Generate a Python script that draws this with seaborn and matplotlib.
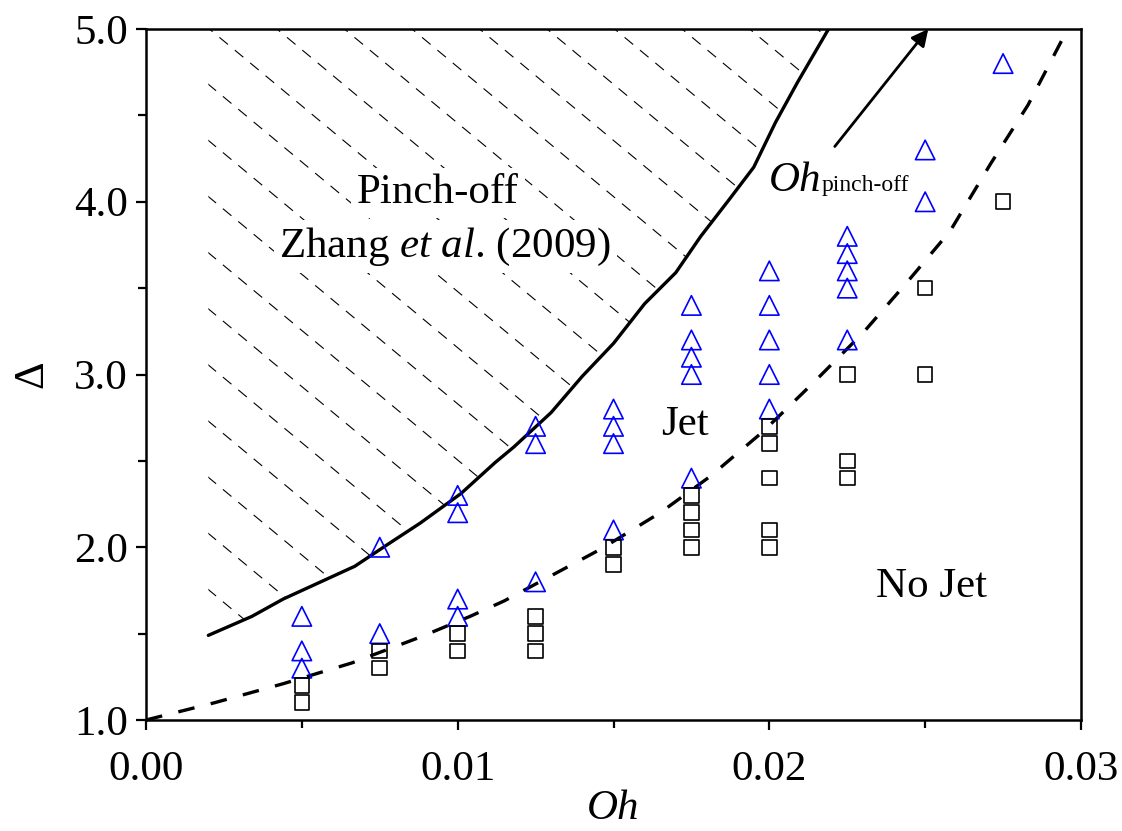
import numpy as np
import matplotlib
matplotlib.use("Agg")
import matplotlib.pyplot as plt
import seaborn as sns
from matplotlib.patches import Polygon
from matplotlib.ticker import MultipleLocator, FixedLocator

# ---------------- data ----------------
# Jet (blue triangles)
oh_jet = [0.005, 0.005, 0.005,
          0.0075, 0.0075,
          0.01, 0.01, 0.01, 0.01,
          0.0125, 0.0125, 0.0125,
          0.015, 0.015, 0.015, 0.015,
          0.0175, 0.0175, 0.0175, 0.0175, 0.0175,
          0.02, 0.02, 0.02, 0.02, 0.02,
          0.0225, 0.0225, 0.0225, 0.0225, 0.0225,
          0.025, 0.025,
          0.0275]
delta_jet = [1.6, 1.4, 1.3,
             1.5, 2.0,
             1.7, 1.6, 2.3, 2.2,
             1.8, 2.7, 2.6,
             2.1, 2.8, 2.7, 2.6,
             2.4, 3.0, 3.1, 3.2, 3.4,
             2.8, 3.0, 3.2, 3.4, 3.6,
             3.2, 3.5, 3.6, 3.7, 3.8,
             4.0, 4.3,
             4.8]

# No jet (black squares)
oh_nojet = [0.005, 0.005,
            0.0075, 0.0075,
            0.01, 0.01,
            0.0125, 0.0125, 0.0125,
            0.015, 0.015,
            0.0175, 0.0175, 0.0175, 0.0175,
            0.02, 0.02, 0.02, 0.02, 0.02,
            0.0225, 0.0225, 0.0225,
            0.025, 0.025,
            0.0275]
delta_nojet = [1.2, 1.1,
               1.4, 1.3,
               1.5, 1.4,
               1.6, 1.5, 1.4,
               2.0, 1.9,
               2.3, 2.2, 2.1, 2.0,
               2.7, 2.6, 2.4, 2.1, 2.0,
               3.0, 2.5, 2.4,
               3.5, 3.0,
               4.0]

# Pinch-off limit, Zhang et al. (2009) (solid line)
pinch_oh = [0.0020, 0.0034, 0.0044, 0.0067, 0.0077, 0.0088, 0.0101, 0.0112,
            0.0118, 0.0130, 0.0140, 0.0150, 0.0160, 0.0170, 0.0178, 0.0187,
            0.0195, 0.0202, 0.0209, 0.0219]
pinch_delta = [1.49, 1.60, 1.70, 1.89, 2.01, 2.14, 2.31, 2.49,
               2.58, 2.78, 2.99, 3.18, 3.41, 3.59, 3.80, 4.01,
               4.20, 4.46, 4.69, 5.00]

# Jet / no-jet boundary (dashed line)
bound_oh = [0.0, 0.0022, 0.0044, 0.0066, 0.0088, 0.0104, 0.0115, 0.0146,
            0.0165, 0.0181, 0.0198, 0.0214, 0.0230, 0.0244, 0.0258, 0.0271,
            0.0283, 0.0294]
bound_delta = [1.00, 1.10, 1.21, 1.33, 1.48, 1.60, 1.69, 1.99,
               2.20, 2.41, 2.67, 2.95, 3.24, 3.53, 3.83, 4.22,
               4.56, 4.94]

x_ticks = [0.0, 0.01, 0.02, 0.03]
x_ticklabels = ["0.00", "0.01", "0.02", "0.03"]
y_ticks = [1.0, 2.0, 3.0, 4.0, 5.0]
y_ticklabels = ["1.0", "2.0", "3.0", "4.0", "5.0"]

# ---------------- style ----------------
sns.set_style("ticks")
plt.rcParams["font.family"] = ["Liberation Serif", "DejaVu Serif"]
plt.rcParams["mathtext.fontset"] = "custom"
plt.rcParams["mathtext.rm"] = "Liberation Serif"
plt.rcParams["mathtext.it"] = "Liberation Serif:italic"
plt.rcParams["text.color"] = "black"
plt.rcParams["axes.labelcolor"] = "black"
plt.rcParams["xtick.color"] = "black"
plt.rcParams["ytick.color"] = "black"

FS = 31
W, H = 1122, 831
fig = plt.figure(figsize=(W / 100, H / 100), dpi=100)
ax = fig.add_axes([146 / W, 1 - 720 / H, (1081 - 146) / W, (720 - 29) / H])

xmin, xmax, ymin, ymax = 0.0, 0.03, 1.0, 5.0
ax.set_xlim(xmin, xmax)
ax.set_ylim(ymin, ymax)

# ---------------- hatch of the pinch-off region ----------------
hatch_left = pinch_oh[0]
poly_pts = [(hatch_left, ymax), (hatch_left, pinch_delta[0])] + \
    list(zip(pinch_oh, pinch_delta)) + [(pinch_oh[-1], ymax)]
clip = Polygon(poly_pts, closed=True, facecolor="none", edgecolor="none",
               transform=ax.transData)
ax.add_patch(clip)
hatch_slope = 150.0      # data units of delta per unit Oh
hatch_step = 0.325
hatch_c0 = 3.38
xs = np.array([xmin, xmax])
for k in range(-6, 30):
    c = hatch_c0 + k * hatch_step
    ln, = ax.plot(xs, c - hatch_slope * (xs - hatch_left), color="black",
                  lw=0.8, linestyle=(0, (10, 8)), zorder=1.5)
    ln.set_clip_path(clip)

# ---------------- curves ----------------
sns.lineplot(x=pinch_oh, y=pinch_delta, sort=False, estimator=None,
             color="black", lw=2.4, ax=ax, zorder=3)
sns.lineplot(x=bound_oh, y=bound_delta, sort=False, estimator=None,
             color="black", lw=2.4, linestyle=(0, (5, 5)), ax=ax, zorder=3)

# ---------------- markers ----------------
sns.scatterplot(x=oh_jet, y=delta_jet, marker="^", s=14 ** 2,
                facecolors="none", edgecolor="#0000ff", linewidth=1.2,
                ax=ax, zorder=4)
sns.scatterplot(x=oh_nojet, y=delta_nojet, marker="s", s=10.5 ** 2,
                facecolors="none", edgecolor="black", linewidth=1.2,
                ax=ax, zorder=4)

# ---------------- annotations ----------------
tb = dict(facecolor="white", edgecolor="none", pad=4)
ax.text(0.00937, 4.05, "Pinch-off", ha="center", va="center", fontsize=FS,
        bbox=tb, zorder=5)
ax.text(0.0096, 3.74, r"Zhang $\mathit{et\ al}$. (2009)", ha="center",
        va="center", fontsize=FS, bbox=tb, zorder=5)
ax.text(0.0173, 2.71, "Jet", ha="center", va="center", fontsize=FS)
ax.text(0.0252, 1.77, "No Jet", ha="center", va="center", fontsize=FS)

t = ax.text(0.0200, 4.06, "Oh", style="italic", fontsize=FS, ha="left",
            va="baseline")
ax.annotate("pinch-off", xy=(1, 0), xycoords=t, xytext=(0, 3),
            textcoords="offset points", fontsize=17, ha="left", va="bottom")

ax.annotate("", xy=(0.0251, 5.0), xytext=(0.0221, 4.32),
            arrowprops=dict(arrowstyle="-|>", color="black", lw=2,
                            mutation_scale=25, shrinkA=0, shrinkB=0),
            annotation_clip=False)

# ---------------- axes ----------------
ax.xaxis.set_major_locator(FixedLocator(x_ticks))
ax.set_xticklabels(x_ticklabels)
ax.yaxis.set_major_locator(FixedLocator(y_ticks))
ax.set_yticklabels(y_ticklabels)
ax.xaxis.set_minor_locator(MultipleLocator(0.005))
ax.yaxis.set_minor_locator(MultipleLocator(0.5))
ax.tick_params(which="both", direction="out", width=1.6, labelsize=FS,
               top=False, right=False, color="black", labelcolor="black")
ax.tick_params(which="major", length=7)
ax.tick_params(axis="x", which="major", pad=15)
ax.tick_params(axis="y", which="major", pad=6)
ax.tick_params(which="minor", length=6)
for sp in ax.spines.values():
    sp.set_visible(True)
    sp.set_linewidth(1.8)
    sp.set_color("black")

ax.set_xlabel("Oh", fontsize=FS, style="italic", labelpad=0)
ax.set_ylabel("Δ", fontsize=FS, labelpad=16)
ax.grid(False)

fig.savefig("out.png", dpi=100, facecolor="white")
